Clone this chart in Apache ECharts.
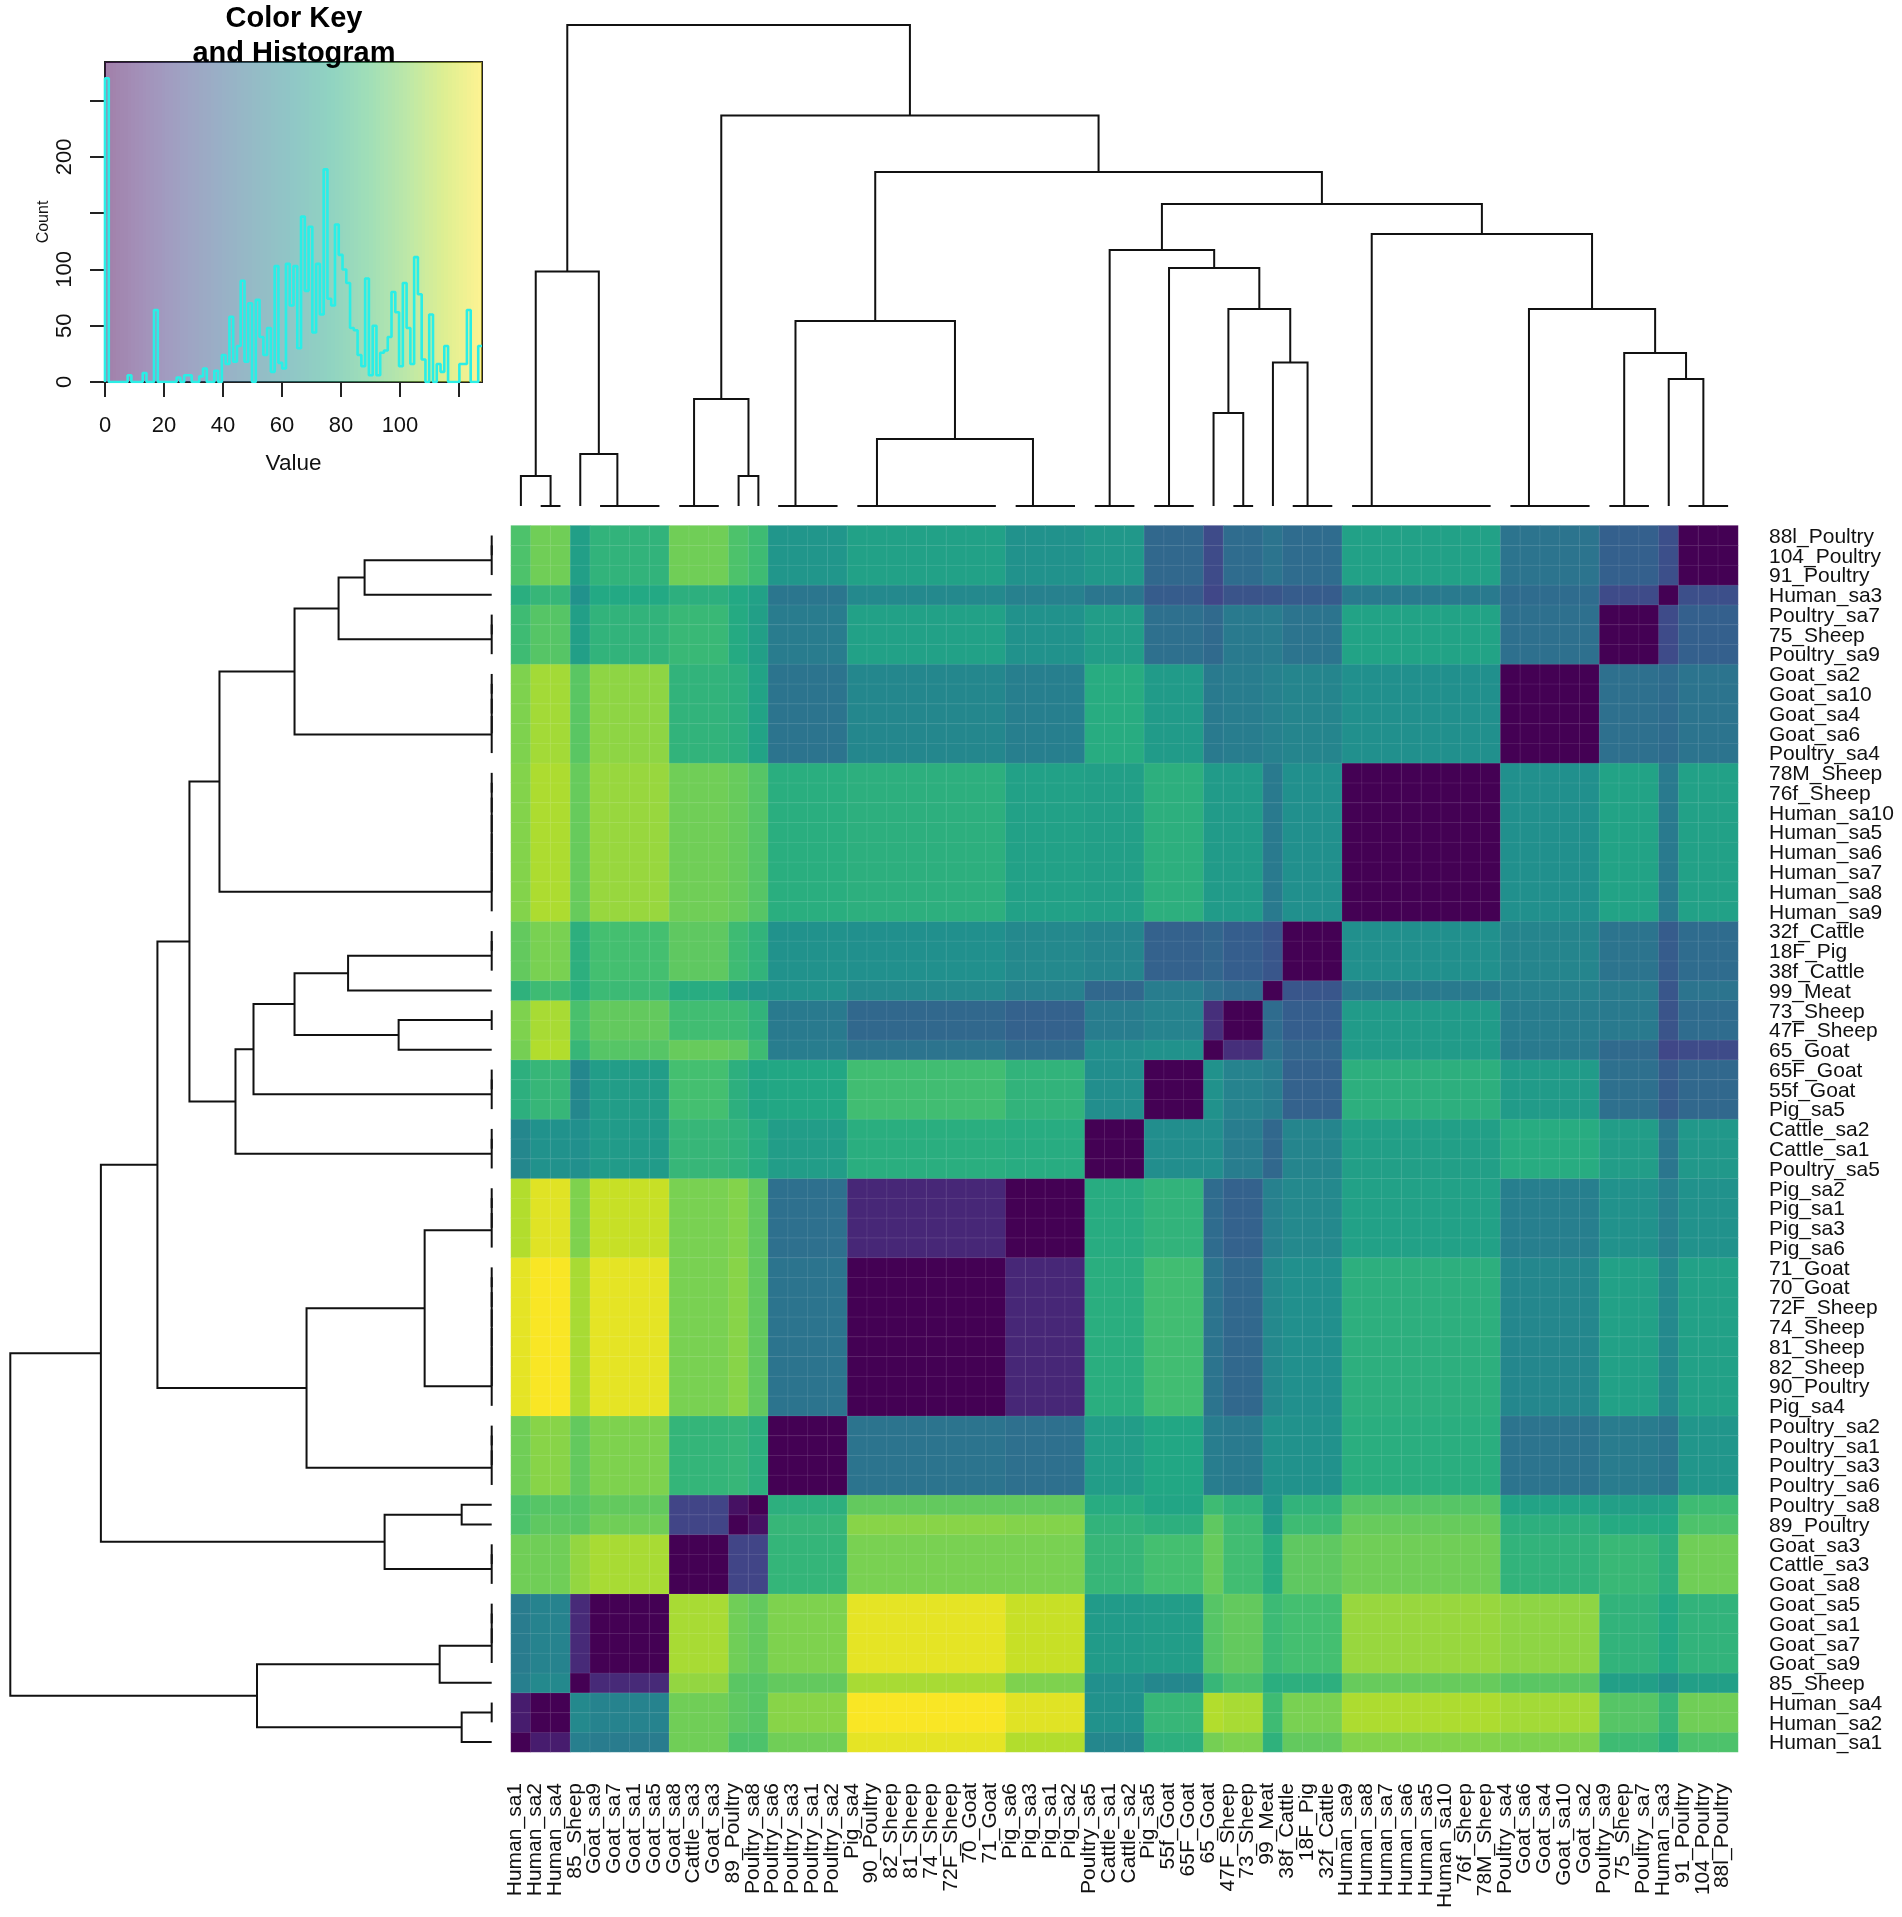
<!DOCTYPE html>
<html>
<head>
    <meta charset="utf-8">
    <title>Heatmap with dendrograms</title>
    <script src="https://cdn.jsdelivr.net/npm/echarts@6/dist/echarts.min.js"></script>
    <style>
        html, body { margin: 0; background: #fff; }
    </style>
</head>
<body>
    <div id="main" style="width: 1902px;height:1917px;"></div>
    <script type="text/javascript">
        // columns left to right, rows bottom to top
        var samples = ['Human_sa1','Human_sa2','Human_sa4','85_Sheep','Goat_sa9','Goat_sa7','Goat_sa1','Goat_sa5',
            'Goat_sa8','Cattle_sa3','Goat_sa3','89_Poultry','Poultry_sa8','Poultry_sa6','Poultry_sa3','Poultry_sa1','Poultry_sa2',
            'Pig_sa4','90_Poultry','82_Sheep','81_Sheep','74_Sheep','72F_Sheep','70_Goat','71_Goat',
            'Pig_sa6','Pig_sa3','Pig_sa1','Pig_sa2','Poultry_sa5','Cattle_sa1','Cattle_sa2',
            'Pig_sa5','55f_Goat','65F_Goat','65_Goat','47F_Sheep','73_Sheep','99_Meat','38f_Cattle','18F_Pig','32f_Cattle',
            'Human_sa9','Human_sa8','Human_sa7','Human_sa6','Human_sa5','Human_sa10','76f_Sheep','78M_Sheep',
            'Poultry_sa4','Goat_sa6','Goat_sa4','Goat_sa10','Goat_sa2','Poultry_sa9','75_Sheep','Poultry_sa7','Human_sa3',
            '91_Poultry','104_Poultry','88l_Poultry'];

        // the samples fall into blocks of equal colour
        var blockSizes = [1, 2, 1, 4, 3, 1, 1, 4, 8, 4, 3, 3, 1, 2, 1, 3, 8, 5, 3, 1, 3];

        // distance between blocks
        var blockDist = [
            [0,10,55,53,100,92,92,100,123,113,59,81,101,103,82,97,104,103,88,80,92],
            [10,0,60,57,100,96,94,105,127,122,65,85,113,111,88,102,112,110,94,85,100],
            [55,60,0,15,107,95,94,97,111,103,64,59,85,91,80,81,98,95,72,65,72],
            [53,57,15,0,111,100,97,103,123,117,70,71,94,97,87,90,108,106,83,77,83],
            [100,100,107,111,0,26,26,84,102,102,85,90,98,89,79,96,100,83,86,81,100],
            [92,96,95,100,26,0,6,85,105,104,83,81,96,88,71,88,98,81,78,77,92],
            [92,94,94,97,26,6,0,81,97,97,79,75,88,83,67,83,94,74,72,73,88],
            [100,105,97,103,84,85,81,0,49,47,71,76,54,52,65,65,80,49,53,50,67],
            [123,127,111,123,102,105,97,49,0,14,80,89,49,43,60,64,81,59,73,60,73],
            [113,122,103,117,102,104,97,47,14,0,79,83,45,40,56,60,73,55,65,56,65],
            [59,65,64,70,85,83,79,71,80,79,0,63,63,54,43,58,72,79,71,50,68],
            [81,85,59,71,90,81,75,76,89,83,63,0,65,57,54,40,81,70,47,37,43],
            [101,113,85,94,98,96,88,54,49,45,63,65,0,17,48,42,70,52,44,27,29],
            [103,111,91,97,89,88,83,52,43,40,54,57,17,0,45,38,70,54,52,33,45],
            [82,88,80,87,79,71,67,65,60,56,43,54,48,45,0,34,52,56,53,34,49],
            [97,102,81,90,96,88,83,65,64,60,58,40,42,38,34,0,64,58,49,37,45],
            [104,112,98,108,100,98,94,80,81,73,72,81,70,70,52,64,0,64,74,52,73],
            [103,110,95,106,83,81,74,49,59,55,79,70,52,54,56,58,64,0,47,45,49],
            [88,94,72,83,86,78,72,53,73,65,71,47,44,52,53,49,74,47,0,29,39],
            [80,85,65,77,81,77,73,50,60,56,50,37,27,33,34,37,52,45,29,0,31],
            [92,100,72,83,100,92,88,67,73,65,68,43,29,45,49,45,73,49,39,31,0]
        ];

        // tree: [height, left, right], a plain number is a leaf (column index)
        var humanEnd = [234.5, [30, 0, [0, 1, 2]], [52, 3, [0, 4, [0, 5, [0, 6, 7]]]]];
        var goatBird = [107, [0, 8, [0, 9, 10]], [30, 11, 12]];
        var pigBranch = [67, [0, 17, [0, 18, [0, 19, [0, 20, [0, 21, [0, 22, [0, 23, 24]]]]]]], [0, 25, [0, 26, [0, 27, 28]]]];
        var poultryPig = [185, [0, 13, [0, 14, [0, 15, 16]]], pigBranch];
        var goatMeat = [197, [93, 35, [0, 36, 37]], [143.5, 38, [0, 39, [0, 40, 41]]]];
        var cattleGoat = [256, [0, 29, [0, 30, 31]], [238, [0, 32, [0, 33, 34]], goatMeat]];
        var birdHuman = [153, [0, 55, [0, 56, 57]], [127, 58, [0, 59, [0, 60, 61]]]];
        var humanGoat = [272, [0, 42, [0, 43, [0, 44, [0, 45, [0, 46, [0, 47, [0, 48, 49]]]]]]], [197, [0, 50, [0, 51, [0, 52, [0, 53, 54]]]], birdHuman]];
        var hTree = [481, humanEnd, [390.5, goatBird, [334, poultryPig, [302, cattleGoat, humanGoat]]]];

        // histogram of the matrix, 100 bins
        var histCounts = [270,0,0,0,0,0,6,0,0,0,
            8,0,0,64,0,0,0,0,0,4,
            0,6,6,0,0,5,12,0,0,10,
            0,24,16,58,18,32,90,18,70,0,
            73,40,24,48,9,103,17,12,105,68,
            103,30,147,81,138,44,105,60,189,74,
            68,140,113,100,88,48,46,24,14,92,
            6,50,6,26,28,40,80,62,14,88,
            48,16,111,78,20,0,60,0,16,9,
            32,0,0,0,16,16,64,0,0,32];
        var valueMax = 127.8;
        var countMax = 284.4;

        var viridis = ['#440154','#482475','#414487','#355f8d','#2a788e','#21908d','#22a884','#42be71','#7ad151','#bddf26','#fde725'];

        // expand the blocks to cells
        var cellData = [];
        var colBlock = [];
        blockSizes.forEach(function (n, b) {
            for (var k = 0; k < n; k++) colBlock.push(b);
        });
        colBlock.forEach(function (bx, x) {
            colBlock.forEach(function (by, y) {
                cellData.push([x, y, blockDist[bx][by]]);
            });
        });

        // walk the tree, leaf position as R does it: middle of the two children
        var merges = [];
        function walk(node) {
            if (typeof node === 'number') return { pos: node, h: 0 };
            var a = walk(node[1]);
            var b = walk(node[2]);
            merges.push([a.pos, a.h, b.pos, b.h, node[0]]);
            return { pos: (a.pos + b.pos) / 2, h: node[0] };
        }
        walk(hTree);

        function dendroItem(swap) {
            return function (params, api) {
                var pt = function (pos, h) {
                    return api.coord(swap ? [h, pos] : [pos, h]);
                };
                var xa = api.value(0), ha = api.value(1), xb = api.value(2), hb = api.value(3), h = api.value(4);
                return {
                    type: 'polyline',
                    shape: { points: [pt(xa, ha), pt(xa, h), pt(xb, h), pt(xb, hb)] },
                    style: { stroke: '#111', lineWidth: 2, fill: null }
                };
            };
        }

        var binWidth = valueMax / histCounts.length;
        var histLine = [[0, 0]];
        histCounts.forEach(function (c, i) {
            histLine.push([i * binWidth, c]);
        });
        histLine.push([valueMax, histCounts[histCounts.length - 1]]);

        var keyBins = histCounts.map(function (c, i) { return [i * binWidth, 0]; });

        var fontName = '"Liberation Sans", Helvetica, Arial, sans-serif';

        var myChart = echarts.init(document.getElementById('main'));

        var option = {
            animation: false,
            backgroundColor: '#fff',
            textStyle: { fontFamily: fontName },
            title: {
                text: 'Color Key\nand Histogram',
                left: 294,
                top: 1,
                padding: 0,
                textAlign: 'center',
                z: 20,
                textStyle: { fontFamily: fontName, fontSize: 29, fontWeight: 'bold', color: '#000', lineHeight: 35 }
            },
            grid: [
                { left: 511, top: 525.6, width: 1227, height: 1226.4 },
                { left: 105, top: 62, width: 377, height: 320, show: true, borderColor: '#222', borderWidth: 2, backgroundColor: 'transparent' },
                { left: 511, top: 25, width: 1227, height: 481 },
                { left: 10.3, top: 525.6, width: 481.4, height: 1226.4 }
            ],
            xAxis: [
                {
                    type: 'category', gridIndex: 0, data: samples,
                    axisLine: { show: false }, axisTick: { show: false }, splitLine: { show: false },
                    // labels sit a little left of the cell centres in the original
                    axisLabel: { interval: 0, rotate: 90, margin: 31, fontSize: 21, color: '#111', fontFamily: fontName, verticalAlign: 'bottom', lineHeight: 11 }
                },
                {
                    type: 'value', gridIndex: 1, min: 0, max: valueMax, interval: 20, splitLine: { show: false },
                    name: 'Value', nameLocation: 'middle', nameGap: 70,
                    nameTextStyle: { fontSize: 22.5, color: '#111', fontFamily: fontName },
                    axisLine: { show: true, lineStyle: { color: '#222', width: 2 } },
                    axisTick: { show: true, length: 15, lineStyle: { color: '#222', width: 2 } },
                    axisLabel: {
                        margin: 33, fontSize: 22, color: '#111', fontFamily: fontName, showMaxLabel: false,
                        formatter: function (v) { return v === 120 ? '' : String(v); }
                    }
                },
                { type: 'value', gridIndex: 2, min: -0.5, max: 61.5, show: false },
                { type: 'value', gridIndex: 3, min: 0, max: 481, inverse: true, show: false }
            ],
            yAxis: [
                {
                    type: 'category', gridIndex: 0, data: samples, position: 'right',
                    axisLine: { show: false }, axisTick: { show: false }, splitLine: { show: false },
                    axisLabel: { interval: 0, margin: 31, fontSize: 21, color: '#111', fontFamily: fontName, verticalAlign: 'top', lineHeight: 3 }
                },
                {
                    type: 'value', gridIndex: 1, min: 0, max: countMax, interval: 50, splitLine: { show: false },
                    name: 'Count', nameLocation: 'middle', nameGap: 53,
                    nameTextStyle: { fontSize: 16, color: '#111', fontFamily: fontName },
                    axisLine: { show: true, lineStyle: { color: '#222', width: 2 } },
                    axisTick: { show: true, length: 15, lineStyle: { color: '#222', width: 2 } },
                    axisLabel: {
                        rotate: 90, margin: 29, fontSize: 22, color: '#111', fontFamily: fontName, showMaxLabel: false,
                        formatter: function (v) { return (v === 150 || v === 250) ? '' : String(v); }
                    }
                },
                { type: 'value', gridIndex: 2, min: 0, max: 481, show: false },
                { type: 'value', gridIndex: 3, min: -0.5, max: 61.5, show: false }
            ],
            visualMap: {
                show: false, type: 'continuous', min: 0, max: valueMax, dimension: 2, seriesIndex: 0,
                inRange: { color: viridis }
            },
            series: [
                {
                    type: 'heatmap', xAxisIndex: 0, yAxisIndex: 0, data: cellData, progressive: 0, silent: true,
                    itemStyle: { borderWidth: 1, borderColor: 'rgba(255,255,255,0.09)' }
                },
                {
                    // washed out colour key behind the histogram
                    type: 'custom', xAxisIndex: 1, yAxisIndex: 1, data: keyBins, silent: true, z: 1, clip: false,
                    renderItem: function (params, api) {
                        var x0 = api.value(0);
                        var tl = api.coord([x0, countMax]);
                        var br = api.coord([x0 + binWidth, 0]);
                        var left = Math.round(tl[0]), right = Math.round(br[0]);
                        return {
                            type: 'rect',
                            shape: { x: left, y: tl[1], width: right - left, height: br[1] - tl[1] },
                            style: { fill: echarts.color.lerp((x0 + binWidth / 2) / valueMax, viridis), opacity: 0.5 }
                        };
                    }
                },
                {
                    type: 'line', xAxisIndex: 1, yAxisIndex: 1, data: histLine, step: 'end', showSymbol: false, silent: true, z: 3,
                    lineStyle: { color: '#2aeee6', width: 2.6 }
                },
                {
                    type: 'custom', xAxisIndex: 2, yAxisIndex: 2, data: merges, silent: true, clip: false,
                    renderItem: dendroItem(false)
                },
                {
                    type: 'custom', xAxisIndex: 3, yAxisIndex: 3, data: merges, silent: true, clip: false,
                    renderItem: dendroItem(true)
                }
            ]
        };

        myChart.setOption(option);
    </script>
</body>
</html>
